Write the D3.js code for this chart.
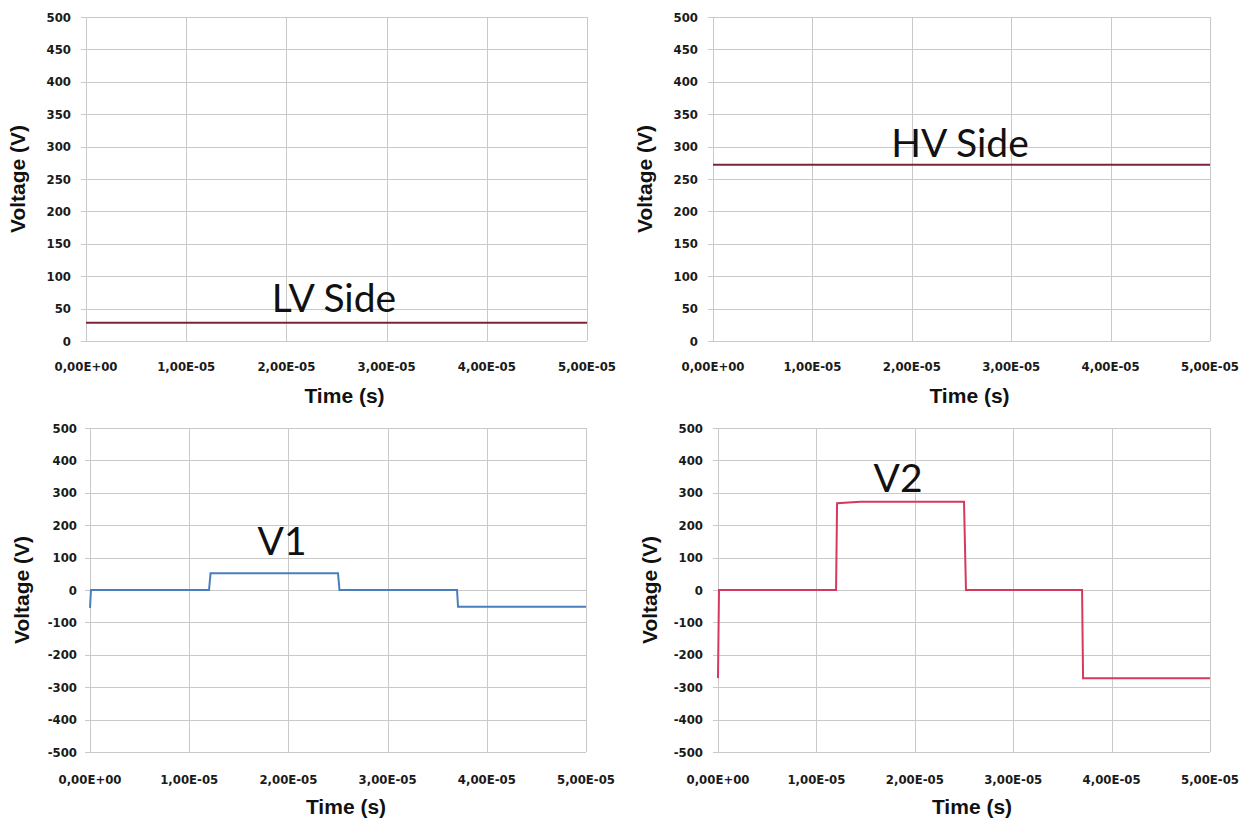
<!DOCTYPE html>
<html>
<head>
<meta charset="utf-8">
<script src="https://cdn.jsdelivr.net/npm/d3@7"></script>
<style>
  html, body { margin: 0; padding: 0; background: #fff; }
  svg { display: block; }
</style>
</head>
<body>
<svg id="chart" width="1256" height="821"></svg>
<script>
// ---- data ----
const xTicks = [0, 1e-5, 2e-5, 3e-5, 4e-5, 5e-5];
const xTickLabels = ["0,00E+00", "1,00E-05", "2,00E-05", "3,00E-05", "4,00E-05", "5,00E-05"];
const yTicksTop = [0, 50, 100, 150, 200, 250, 300, 350, 400, 450, 500];
const yTicksBottom = [-500, -400, -300, -200, -100, 0, 100, 200, 300, 400, 500];

const tLV = [0, 5e-5];
const vLV = [28, 28];

const tHV = [0, 5e-5];
const vHV = [272, 272];

const tV1 = [0, 0.01e-5, 1.2e-5, 1.215e-5, 2.5e-5, 2.515e-5, 3.7e-5, 3.71e-5, 5e-5];
const vV1 = [-55, 0, 0, 52, 52, 0, 0, -52, -52];

const tV2 = [0, 0.01e-5, 1.2e-5, 1.21e-5, 1.45e-5, 2.5e-5, 2.52e-5, 3.7e-5, 3.71e-5, 5e-5];
const vV2 = [-272, 0, 0, 268, 272, 272, 0, 0, -272, -272];

const panels = [
  { t: tLV, v: vLV, yTicks: yTicksTop, yDom: [0, 500], color: "#7a2436", label: "LV Side",
    x0: 86, x1: 587, y0: 341, y1: 17, lblX: 334, lblY: 312, labOff: 15, xlabOff: 29.5 },
  { t: tHV, v: vHV, yTicks: yTicksTop, yDom: [0, 500], color: "#7a2436", label: "HV Side",
    x0: 713, x1: 1210, y0: 341, y1: 17, lblX: 960, lblY: 157, labOff: 15, xlabOff: 29.5 },
  { t: tV1, v: vV1, yTicks: yTicksBottom, yDom: [-500, 500], color: "#4a7ebb", label: "V1",
    x0: 90, x1: 586, y0: 752, y1: 428, lblX: 282, lblY: 555, labOff: 13, xlabOff: 32 },
  { t: tV2, v: vV2, yTicks: yTicksBottom, yDom: [-500, 500], color: "#d6395e", label: "V2",
    x0: 718, x1: 1210, y0: 752, y1: 428, lblX: 898, lblY: 492, labOff: 15, xlabOff: 32 }
];

const svg = d3.select("#chart");
const gridColor = "#c9c9c9";
const tickFont = "'DejaVu Sans Condensed', 'DejaVu Sans', Verdana, sans-serif";

panels.forEach(p => {
  const x = d3.scaleLinear().domain([0, 5e-5]).range([p.x0, p.x1]);
  const y = d3.scaleLinear().domain(p.yDom).range([p.y0, p.y1]);
  const g = svg.append("g");

  // horizontal gridlines
  g.selectAll("line.hg").data(p.yTicks).join("line")
    .attr("x1", p.x0 - 5).attr("x2", p.x1)
    .attr("y1", d => Math.round(y(d)) + 0.5).attr("y2", d => Math.round(y(d)) + 0.5)
    .attr("stroke", gridColor).attr("stroke-width", 1);
  // vertical gridlines
  g.selectAll("line.vg").data(xTicks).join("line")
    .attr("x1", d => Math.round(x(d)) + 0.5).attr("x2", d => Math.round(x(d)) + 0.5)
    .attr("y1", p.y1).attr("y2", p.y0)
    .attr("stroke", gridColor).attr("stroke-width", 1);

  // y tick labels
  g.selectAll("text.yt").data(p.yTicks).join("text")
    .attr("x", p.x0 - p.labOff).attr("y", d => y(d))
    .attr("dy", "0.36em").attr("text-anchor", "end")
    .attr("font-family", tickFont).attr("font-weight", "bold").attr("font-size", 13)
    .attr("fill", "#1a1a1a")
    .text(d => d);

  // x tick labels
  g.selectAll("text.xt").data(xTicks).join("text")
    .attr("x", d => x(d)).attr("y", p.y0 + p.xlabOff)
    .attr("text-anchor", "middle")
    .attr("font-family", tickFont).attr("font-weight", "bold").attr("font-size", 13)
    .attr("fill", "#1a1a1a")
    .text((d, i) => xTickLabels[i]);

  // axis titles
  g.append("text")
    .attr("x", (p.x0 + p.x1) / 2 + 8).attr("y", p.y0 + 62)
    .attr("text-anchor", "middle")
    .attr("font-family", "'Liberation Sans', Arial, sans-serif").attr("font-weight", "bold").attr("font-size", 21)
    .attr("fill", "#111")
    .text("Time (s)");
  g.append("text")
    .attr("transform", `translate(${p.x0 - 61},${(p.y0 + p.y1) / 2}) rotate(-90)`)
    .attr("text-anchor", "middle")
    .attr("font-family", "'Liberation Sans', Arial, sans-serif").attr("font-weight", "bold").attr("font-size", 21)
    .attr("fill", "#111")
    .text("Voltage (V)");

  // series
  const pts = p.t.map((t, i) => [t, p.v[i]]);
  g.append("path")
    .datum(pts)
    .attr("fill", "none")
    .attr("stroke", p.color)
    .attr("stroke-width", 2)
    .attr("d", d3.line().x(d => x(d[0])).y(d => y(d[1])));

  // annotation
  g.append("text")
    .attr("x", p.lblX).attr("y", p.lblY)
    .attr("text-anchor", "middle")
    .attr("font-family", "Lato, 'Open Sans', sans-serif").attr("font-size", 39)
    .attr("fill", "#111")
    .text(p.label);
});
</script>
</body>
</html>
